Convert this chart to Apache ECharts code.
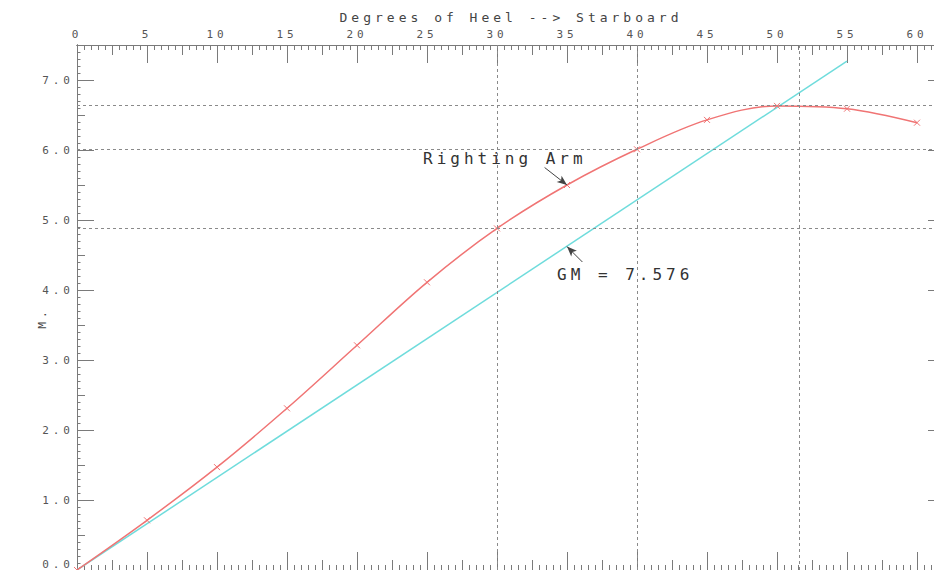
<!DOCTYPE html>
<html><head><meta charset="utf-8">
<script src="https://cdn.jsdelivr.net/npm/echarts@6/dist/echarts.min.js"></script>
<style>
html,body{margin:0;padding:0;background:#fff;}
#c{width:934px;height:570px;}
#c text{letter-spacing:4px;}
</style></head><body><div id="c"></div>
<script>
// ---- data ----
const heelDeg      = [0, 5, 10, 15, 20, 25, 30, 35, 40, 45, 50, 55, 60];
const rightingArm  = [0, 0.71, 1.47, 2.31, 3.21, 4.11, 4.88, 5.50, 6.01, 6.43, 6.63, 6.59, 6.39];
const gmDeg        = [0, 55];
const gmValues     = [0, 7.27];
const xTickLabels  = ['0','5','10','15','20','25','30','35','40','45','50','55','60'];
const yTickLabels  = ['0.0','1.0','2.0','3.0','4.0','5.0','6.0','7.0'];
const refLevels    = [6.64, 6.01, 4.88];
const refAngles    = [30, 40, 51.6];
const raArrow      = [[33.4, 5.75], [35, 5.5]];
const gmArrow      = [[36.1, 4.40], [35, 4.62]];
const titleText    = 'Degrees of Heel --> Starboard';
const yName        = 'M.';
const raLabel      = 'Righting Arm';
const gmLabel      = 'GM = 7.576';

const FONT = '"DejaVu Sans Mono", "Liberation Mono", monospace';
const AX = '#7a7a7a';
const X_MAX = 62, Y_MAX = 7.5;

function xAx(pos, interval, len, extra) {
  return Object.assign({
    type: 'value', position: pos, min: 0, max: X_MAX, interval: interval,
    axisLine: { show: true, onZero: false, lineStyle: { color: AX, width: 1 } },
    axisTick: { show: true, inside: true, length: len, lineStyle: { color: AX, width: 1 } },
    axisLabel: { show: false },
    splitLine: { show: false }
  }, extra || {});
}
function yAx(pos, interval, len, extra) {
  return Object.assign({
    type: 'value', position: pos, min: 0, max: Y_MAX, interval: interval,
    axisLine: { show: true, onZero: false, lineStyle: { color: AX, width: 1 } },
    axisTick: { show: true, inside: true, length: len, lineStyle: { color: AX, width: 1 } },
    axisLabel: { show: false },
    splitLine: { show: false }
  }, extra || {});
}

const xAxes = [
  xAx('bottom', 5, 18),
  xAx('bottom', 2.5, 10),
  xAx('bottom', 0.5, 5),
  xAx('top', 5, 18, {
    axisLabel: { show: true, margin: 5, color: '#555', fontFamily: FONT, fontSize: 11,
      showMaxLabel: false,
      formatter: v => { const i = xTickLabels.indexOf(String(Math.round(v))); return (Math.abs(v - Math.round(v)) < 1e-6 && i >= 0) ? xTickLabels[i] : ''; } },
    name: titleText, nameLocation: 'middle', nameGap: 20,
    nameTextStyle: { color: '#444', fontFamily: FONT, fontSize: 13 }
  }),
  xAx('top', 2.5, 10),
  xAx('top', 0.5, 5)
];
const yAxes = [
  yAx('left', 1, 17, {
    axisLabel: { show: true, margin: 3, color: '#555', fontFamily: FONT, fontSize: 11,
      showMaxLabel: false,
      formatter: v => {
        const i = Math.round(v);
        if (Math.abs(v - i) > 1e-6 || !yTickLabels[i]) return '';
        return i === 0 ? '{b|' + yTickLabels[i] + '}' : yTickLabels[i];
      },
      rich: { b: { padding: [0, 0, 12, 0], color: '#555', fontFamily: FONT, fontSize: 11 } } }
  }),
  yAx('left', 0.5, 8),
  yAx('left', 0.1, 3.5),
  yAx('right', 1, 17)
];

const raData = heelDeg.map((d, i) => [d, rightingArm[i]]);
const gmData = gmDeg.map((d, i) => [d, gmValues[i]]);

const dotted = { color: '#8a8a8a', width: 1, type: [3, 3] };

const option = {
  animation: false,
  backgroundColor: '#fff',
  grid: { left: 77, width: 868, top: 45, height: 525, containLabel: false, outerBoundsMode: 'none' },
  xAxis: xAxes,
  yAxis: yAxes,
  graphic: [
    { type: 'text', left: 423, top: 150, silent: true,
      style: { text: raLabel, font: '16px ' + FONT, fill: '#333' } },
    { type: 'text', left: 557, top: 266, silent: true,
      style: { text: gmLabel, font: '16px ' + FONT, fill: '#333' } },
    { type: 'text', x: 42, y: 318, rotation: Math.PI / 2, silent: true,
      style: { text: yName, font: '11px ' + FONT, fill: '#444', align: 'center', verticalAlign: 'middle' } }
  ],
  series: [
    {
      type: 'line', name: 'refs', data: [], xAxisIndex: 0, yAxisIndex: 0, silent: true,
      markLine: {
        silent: true, symbol: ['none', 'none'], label: { show: false },
        lineStyle: dotted,
        data: refLevels.map(v => ({ yAxis: v })).concat(refAngles.map(v => ({ xAxis: v })))
      }
    },
    {
      type: 'line', name: 'GM', data: gmData, xAxisIndex: 0, yAxisIndex: 0,
      symbol: 'none', lineStyle: { color: '#6fdcdc', width: 1.5 },
      markLine: {
        silent: true, symbol: ['none', 'arrow'], symbolSize: [6, 10], label: { show: false },
        lineStyle: { color: '#444', width: 1, type: 'solid' },
        data: [[{ coord: gmArrow[0] }, { coord: gmArrow[1] }]]
      }
    },
    {
      type: 'line', name: 'Righting Arm', data: raData, xAxisIndex: 0, yAxisIndex: 0,
      smooth: 0.35,
      symbol: 'path://M0,0L10,10M10,0L0,10', symbolSize: 6,
      itemStyle: { color: '#f07474', borderColor: '#f07474', borderWidth: 1 },
      lineStyle: { color: '#f07474', width: 1.5 },
      markLine: {
        silent: true, symbol: ['none', 'arrow'], symbolSize: [6, 10], label: { show: false },
        lineStyle: { color: '#444', width: 1, type: 'solid' },
        data: [[{ coord: raArrow[0] }, { coord: raArrow[1] }]]
      }
    }
  ]
};

const chart = echarts.init(document.getElementById('c'), null, { renderer: 'svg' });
chart.setOption(option);
</script></body></html>
